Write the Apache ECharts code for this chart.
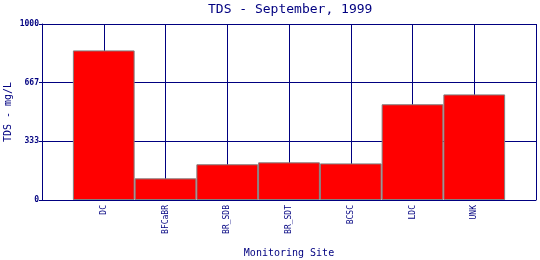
<!DOCTYPE html>
<html><head><meta charset="utf-8">
<script src="https://cdn.jsdelivr.net/npm/echarts@6/dist/echarts.min.js"></script>
<style>html,body{margin:0;padding:0;background:#fff}#c{width:540px;height:260px}</style>
</head><body><div id="c"></div>
<script>
const sites = ['DC', 'BFCaBR', 'BR_SDB', 'BR_SDT', 'BCSC', 'LDC', 'UNK'];
const tds = [850, 123, 203, 214, 208, 544, 600];
const yTicks = [0, 333, 667, 1000];

const navy = '#000080';
const mono = 'DejaVu Sans Mono';
const cats = [''].concat(sites, ['']);
const vals = ['-'].concat(tds, ['-']);

const chart = echarts.init(document.getElementById('c'), null, {renderer: 'canvas'});
chart.setOption({
  animation: false,
  backgroundColor: '#fff',
  title: {
    text: 'TDS - September, 1999', left: 203, top: -2,
    textStyle: {color: navy, fontFamily: mono, fontWeight: 'normal', fontSize: 13}
  },
  grid: {left: 42, right: 4, top: 24, bottom: 60, containLabel: false, outerBoundsMode: 'none'},
  xAxis: {
    type: 'category', data: cats, boundaryGap: false,
    name: 'Monitoring Site', nameLocation: 'middle', nameGap: 48, nameMoveOverlap: false,
    nameTextStyle: {color: navy, fontFamily: mono, fontSize: 10},
    axisLine: {lineStyle: {color: navy, width: 1}},
    axisTick: {show: false},
    axisLabel: {rotate: 90, interval: 0, color: navy, fontFamily: mono, fontSize: 8, margin: 5},
    splitLine: {show: true, interval: 0, lineStyle: {color: navy, width: 1}}
  },
  yAxis: {
    type: 'value', min: 0, max: 1000, interval: 1000 / 3,
    name: 'TDS - mg/L', nameLocation: 'middle', nameGap: 29, nameMoveOverlap: false,
    nameTextStyle: {color: navy, fontFamily: mono, fontSize: 10},
    axisLine: {show: true, lineStyle: {color: navy, width: 1}},
    axisTick: {show: true, length: 3, lineStyle: {color: navy}},
    axisLabel: {
      color: navy, fontFamily: mono, fontSize: 8, fontWeight: 'bold', margin: 3,
      formatter: v => String(yTicks.reduce((a, b) => Math.abs(b - v) < Math.abs(a - v) ? b : a))
    },
    splitLine: {show: true, lineStyle: {color: navy, width: 1}}
  },
  series: [{
    type: 'bar', data: vals, barWidth: '100%',
    itemStyle: {color: '#ff0000', borderColor: '#808080', borderWidth: 1}
  }]
});
</script></body></html>
